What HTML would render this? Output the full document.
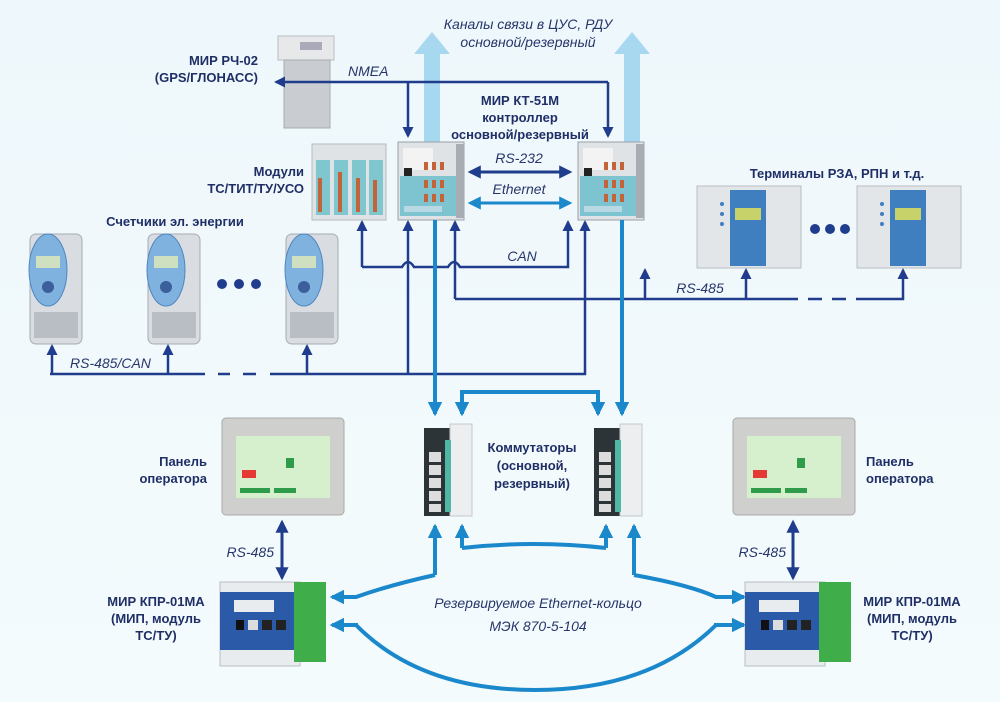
<!DOCTYPE html>
<html><head><meta charset="utf-8"><style>
html,body{margin:0;padding:0;background:#f1f9fc;}
svg{display:block}
.b{font-family:"Liberation Sans","Noto Sans CJK SC",sans-serif;font-weight:bold;fill:#1f2f66;font-size:13px}
.i{font-family:"Liberation Sans","Noto Sans CJK SC",sans-serif;font-style:italic;fill:#27366a;font-size:14px}
</style></head><body>
<svg width="1000" height="702" viewBox="0 0 1000 702" xmlns="http://www.w3.org/2000/svg">
<defs>
<marker id="d" markerWidth="4.4" markerHeight="4.4" refX="3.6" refY="2.2" orient="auto-start-reverse" markerUnits="strokeWidth"><path d="M0,0 L4.4,2.2 L0,4.4 Z" fill="#1f3d8c"/></marker>
<marker id="e" markerWidth="4.4" markerHeight="4.4" refX="3.6" refY="2.2" orient="auto-start-reverse" markerUnits="strokeWidth"><path d="M0,0 L4.4,2.2 L0,4.4 Z" fill="#1b88cc"/></marker>
<marker id="m" markerWidth="3.6" markerHeight="3.6" refX="3" refY="1.8" orient="auto" markerUnits="strokeWidth"><path d="M0,0 L3.6,1.8 L0,3.6 Z" fill="#1b88cc"/></marker>
<linearGradient id="bg" x1="0" y1="0" x2="0" y2="1"><stop offset="0" stop-color="#eef7fb"/><stop offset="1" stop-color="#f4fbfd"/></linearGradient>
</defs>
<rect width="1000" height="702" fill="url(#bg)"/>

<rect x="424" y="52" width="16" height="90" fill="#a8d7f0"/>
<polygon points="414,54 432,32 450,54" fill="#a8d7f0"/>
<rect x="624" y="52" width="16" height="90" fill="#a8d7f0"/>
<polygon points="614,54 632,32 650,54" fill="#a8d7f0"/>
<text class="i" x="528" y="29" text-anchor="middle" font-size="13">Каналы связи в ЦУС, РДУ</text>
<text class="i" x="528" y="47" text-anchor="middle" font-size="13">основной/резервный</text>

<rect x="278" y="36" width="56" height="24" fill="#e6e8ea" stroke="#b9bdc2"/>
<rect x="284" y="60" width="46" height="68" fill="#c9ccd0" stroke="#a8acb0"/>
<rect x="300" y="42" width="22" height="8" fill="#aab"/>
<text class="b" x="258" y="65" text-anchor="end">МИР РЧ-02</text>
<text class="b" x="258" y="82" text-anchor="end">(GPS/ГЛОНАСС)</text>

<g stroke="#1f3d8c" stroke-width="2.5" fill="none">
<path d="M608,82 H276" marker-end="url(#d)"/>
<path d="M408,82 V136" marker-end="url(#d)"/>
<path d="M608,82 V136" marker-end="url(#d)"/>
</g>
<text class="i" x="348" y="76">NMEA</text>
<text class="b" x="520" y="105" text-anchor="middle">МИР КТ-51М</text>
<text class="b" x="520" y="122" text-anchor="middle">контроллер</text>
<text class="b" x="520" y="139" text-anchor="middle">основной/резервный</text>

<g>
<rect x="312" y="144" width="74" height="76" fill="#dfe3e6" stroke="#b5bbc0"/>
<rect x="316" y="160" width="14" height="55" fill="#7fc6cf"/><rect x="334" y="160" width="14" height="55" fill="#7fc6cf"/>
<rect x="352" y="160" width="14" height="55" fill="#7fc6cf"/><rect x="369" y="160" width="14" height="55" fill="#7fc6cf"/>
<rect x="318" y="178" width="4" height="34" fill="#c2633a"/><rect x="338" y="172" width="4" height="40" fill="#c2633a"/>
<rect x="356" y="178" width="4" height="34" fill="#c2633a"/><rect x="373" y="180" width="4" height="32" fill="#c2633a"/>
</g>
<text class="b" x="304" y="176" text-anchor="end">Модули</text>
<text class="b" x="304" y="193" text-anchor="end">ТС/ТИТ/ТУ/УСО</text>

<g id="ctl">
<rect x="398" y="142" width="66" height="78" fill="#dfe3e6" stroke="#9aa1a8"/>
<rect x="400" y="176" width="56" height="40" fill="#7dc4d0"/>
<rect x="456" y="144" width="8" height="74" fill="#a7adb3"/>
<rect x="403" y="148" width="30" height="22" fill="#f3f3f3"/>
<rect x="424" y="162" width="4" height="8" fill="#c2633a"/><rect x="432" y="162" width="4" height="8" fill="#c2633a"/><rect x="440" y="162" width="4" height="8" fill="#c2633a"/>
<rect x="424" y="180" width="4" height="8" fill="#c2633a"/><rect x="432" y="180" width="4" height="8" fill="#c2633a"/><rect x="440" y="180" width="4" height="8" fill="#c2633a"/>
<rect x="424" y="194" width="4" height="8" fill="#c2633a"/><rect x="432" y="194" width="4" height="8" fill="#c2633a"/><rect x="440" y="194" width="4" height="8" fill="#c2633a"/>
<rect x="404" y="168" width="8" height="8" fill="#222"/>
<rect x="404" y="206" width="38" height="6" fill="#b8d8e4"/>
</g>
<use href="#ctl" x="180" y="0"/>

<path d="M470,172 H570" stroke="#1f3d8c" stroke-width="3" marker-end="url(#d)" marker-start="url(#d)" fill="none"/>
<path d="M470,203 H570" stroke="#1b88cc" stroke-width="3" marker-end="url(#e)" marker-start="url(#e)" fill="none"/>
<text class="i" x="519" y="163" text-anchor="middle">RS-232</text>
<text class="i" x="519" y="194" text-anchor="middle" font-size="13">Ethernet</text>

<g id="term">
<rect x="697" y="186" width="104" height="82" fill="#e3e6e9" stroke="#b8bdc2"/>
<rect x="730" y="190" width="36" height="76" fill="#3f7fbf"/>
<rect x="735" y="208" width="26" height="12" fill="#c7d36a"/>
<circle cx="722" cy="204" r="2" fill="#3f7fbf"/><circle cx="722" cy="214" r="2" fill="#3f7fbf"/><circle cx="722" cy="224" r="2" fill="#3f7fbf"/>
</g>
<use href="#term" x="160" y="0"/>
<circle cx="815" cy="229" r="5" fill="#1f3d8c"/><circle cx="830" cy="229" r="5" fill="#1f3d8c"/><circle cx="845" cy="229" r="5" fill="#1f3d8c"/>
<text class="b" x="837" y="178" text-anchor="middle">Терминалы РЗА, РПН и т.д.</text>

<g id="mt">
<rect x="30" y="234" width="52" height="110" rx="6" fill="#d9dde2" stroke="#a5acb4"/>
<ellipse cx="48" cy="270" rx="19" ry="36" fill="#7fb2df" stroke="#4f86bf"/>
<rect x="36" y="256" width="24" height="12" fill="#cfe0c0"/>
<circle cx="48" cy="287" r="6" fill="#3a5f9a"/>
<rect x="34" y="312" width="44" height="26" fill="#b9bec4"/>
</g>
<use href="#mt" x="118" y="0"/>
<use href="#mt" x="256" y="0"/>
<circle cx="222" cy="284" r="5" fill="#1f3d8c"/><circle cx="239" cy="284" r="5" fill="#1f3d8c"/><circle cx="256" cy="284" r="5" fill="#1f3d8c"/>
<text class="b" x="175" y="226" text-anchor="middle">Счетчики эл. энергии</text>

<g stroke="#1f3d8c" stroke-width="2.5" fill="none">
<path d="M50,374 H205 M218,374 H230 M243,374 H256 M270,374 H585 V222" marker-end="url(#d)"/>
<path d="M52,374 V346" marker-end="url(#d)"/>
<path d="M168,374 V346" marker-end="url(#d)"/>
<path d="M307,374 V346" marker-end="url(#d)"/>
<path d="M408,374 V222" marker-end="url(#d)"/>
<path d="M362,267 V222" marker-end="url(#d)"/>
<path d="M362,267 H402 Q408,257 414,267 H448 Q454,257 460,267 H568 V222" marker-end="url(#d)"/>
<path d="M455,299 V222" marker-end="url(#d)"/>
<path d="M455,299 H798 M808,299 H822 M832,299 H846 M856,299 H903 V270" marker-end="url(#d)"/>
<path d="M645,299 V270" marker-end="url(#d)"/>
<path d="M746,299 V270" marker-end="url(#d)"/>
</g>
<text class="i" x="70" y="368">RS-485/CAN</text>
<text class="i" x="522" y="261" text-anchor="middle">CAN</text>
<text class="i" x="700" y="293" text-anchor="middle">RS-485</text>

<g stroke="#1b88cc" stroke-width="4" fill="none">
<path d="M435,220 V414" marker-end="url(#m)"/>
<path d="M622,220 V414" marker-end="url(#m)"/>
<path d="M462,414 V392 H598 V414" marker-end="url(#m)"/>
</g>
<path d="M462,392 V414" stroke="#1b88cc" stroke-width="4" marker-end="url(#m)"/>

<g id="sw">
<rect x="424" y="428" width="26" height="88" fill="#2c3438"/>
<rect x="450" y="424" width="22" height="92" fill="#eceeef" stroke="#c4c8cc"/>
<rect x="445" y="440" width="6" height="72" fill="#4fb8a4"/>
<rect x="429" y="452" width="12" height="10" fill="#ddd"/><rect x="429" y="465" width="12" height="10" fill="#ddd"/>
<rect x="429" y="478" width="12" height="10" fill="#ddd"/><rect x="429" y="491" width="12" height="10" fill="#ddd"/><rect x="429" y="504" width="12" height="8" fill="#ddd"/>
</g>
<use href="#sw" x="170" y="0"/>
<text class="b" x="532" y="452" text-anchor="middle">Коммутаторы</text>
<text class="b" x="532" y="470" text-anchor="middle">(основной,</text>
<text class="b" x="532" y="488" text-anchor="middle">резервный)</text>

<g stroke="#1b88cc" stroke-width="4" fill="none">
<path d="M435,575 V526" marker-end="url(#m)"/>
<path d="M462,548 V526" marker-end="url(#m)"/>
<path d="M606,548 V526" marker-end="url(#m)"/>
<path d="M634,575 V526" marker-end="url(#m)"/>
<path d="M462,548 Q534,540 606,548"/>
<path d="M435,575 Q390,585 356,597 H332" marker-end="url(#m)"/>
<path d="M634,575 Q690,585 716,597 H744" marker-end="url(#m)"/>
<path d="M356,625 Q420,690 535,690 Q650,690 716,625"/>
<path d="M358,625 H332" marker-end="url(#m)"/>
<path d="M714,625 H744" marker-end="url(#m)"/>
</g>
<text class="i" x="538" y="608" text-anchor="middle" font-size="13">Резервируемое Ethernet-кольцо</text>
<text class="i" x="538" y="631" text-anchor="middle" font-size="13">МЭК 870-5-104</text>

<g id="pn">
<rect x="222" y="418" width="122" height="97" rx="4" fill="#cfcfcd" stroke="#a9aaa8"/>
<rect x="236" y="436" width="94" height="62" fill="#d6efcd"/>
<rect x="242" y="470" width="14" height="8" fill="#e53935"/>
<rect x="286" y="458" width="8" height="10" fill="#2e9c4a"/>
<rect x="240" y="488" width="30" height="5" fill="#2e9c4a"/><rect x="274" y="488" width="22" height="5" fill="#2e9c4a"/>
</g>
<use href="#pn" x="511" y="0"/>
<text class="b" x="207" y="466" text-anchor="end">Панель</text>
<text class="b" x="207" y="483" text-anchor="end">оператора</text>
<text class="b" x="866" y="466">Панель</text>
<text class="b" x="866" y="483">оператора</text>

<g stroke="#1f3d8c" stroke-width="3" fill="none">
<path d="M282,540 V522" marker-end="url(#d)"/><path d="M282,560 V578" marker-end="url(#d)"/><path d="M282,530 V570"/>
<path d="M793,540 V522" marker-end="url(#d)"/><path d="M793,560 V578" marker-end="url(#d)"/><path d="M793,530 V570"/>
</g>
<text class="i" x="274" y="557" text-anchor="end">RS-485</text>
<text class="i" x="786" y="557" text-anchor="end">RS-485</text>

<g id="kp">
<rect x="220" y="582" width="80" height="84" fill="#e9ecee" stroke="#b9bec2"/>
<rect x="220" y="592" width="74" height="58" fill="#2a5aa8"/>
<rect x="294" y="582" width="32" height="80" fill="#3fae4a"/>
<rect x="234" y="600" width="40" height="12" fill="#e8ecef"/>
<rect x="236" y="620" width="8" height="10" fill="#111"/><rect x="248" y="620" width="10" height="10" fill="#ddd"/>
<rect x="262" y="620" width="10" height="10" fill="#222"/><rect x="276" y="620" width="10" height="10" fill="#222"/>
</g>
<use href="#kp" x="525" y="0"/>
<text class="b" x="156" y="606" text-anchor="middle">МИР КПР-01МА</text>
<text class="b" x="156" y="623" text-anchor="middle">(МИП, модуль</text>
<text class="b" x="156" y="640" text-anchor="middle">ТС/ТУ)</text>
<text class="b" x="912" y="606" text-anchor="middle">МИР КПР-01МА</text>
<text class="b" x="912" y="623" text-anchor="middle">(МИП, модуль</text>
<text class="b" x="912" y="640" text-anchor="middle">ТС/ТУ)</text>
</svg>
</body></html>
